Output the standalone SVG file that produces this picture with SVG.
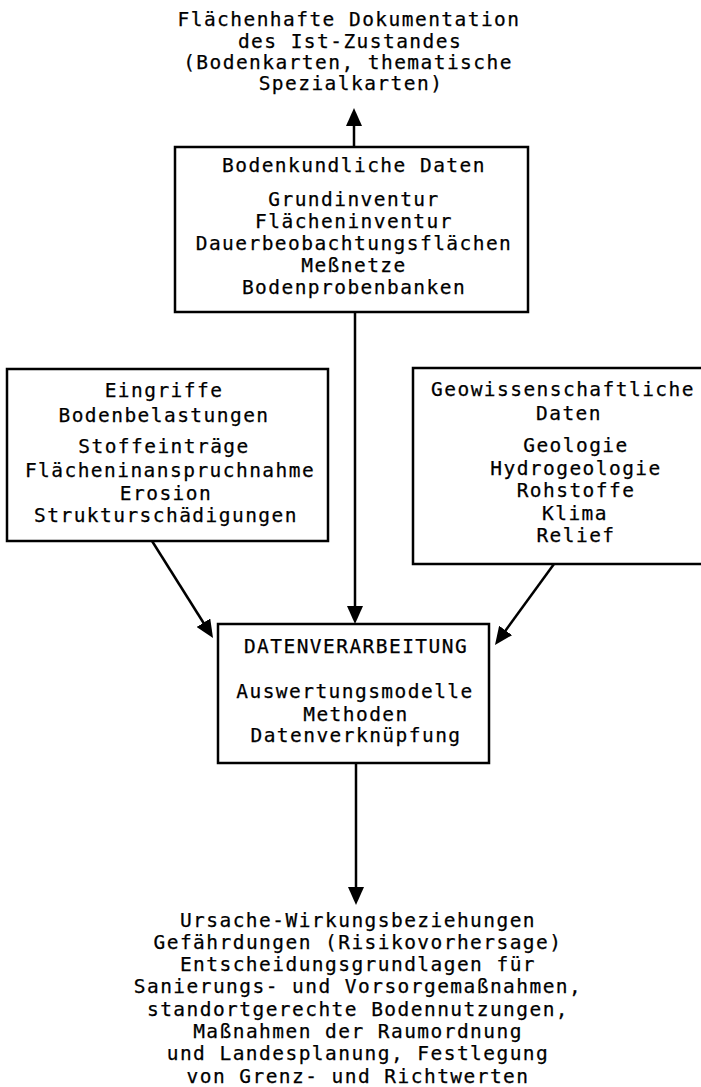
<svg xmlns="http://www.w3.org/2000/svg" width="701" height="1087" viewBox="0 0 701 1087">
  <style>
    .box { fill: #fff; stroke: #000; stroke-width: 2.5; }
    .lbl { font-family: "DejaVu Sans Mono", "Liberation Mono", monospace; font-size: 19.5px; letter-spacing: 1.45px; fill: #000; stroke: #000; stroke-width: 0.25; text-anchor: middle; }
    .edge { stroke: #000; stroke-width: 2.5; fill: none; marker-end: url(#head); }
  </style>
  <defs>
    <marker id="head" markerUnits="userSpaceOnUse" markerWidth="18" markerHeight="16" refX="8" refY="8" orient="auto">
      <path d="M0,0 L18,8 L0,16 z" fill="#000"/>
    </marker>
  </defs>
  <rect width="701" height="1087" fill="#fff"/>

  <!-- connectors -->
  <g id="connectors">
    <line class="edge" x1="354" y1="147" x2="354" y2="118"/>
    <line class="edge" x1="355" y1="312" x2="355" y2="614"/>
    <line class="edge" x1="152" y1="541" x2="207.7" y2="629.5"/>
    <line class="edge" x1="554" y1="564" x2="500.9" y2="636.9"/>
    <line class="edge" x1="356" y1="763" x2="356" y2="895"/>
  </g>

  <!-- output: area-wide documentation -->
  <g id="doku">
    <text class="lbl" x="349" y="26">Flächenhafte Dokumentation</text>
    <text class="lbl" x="350" y="48">des Ist-Zustandes</text>
    <text class="lbl" x="348" y="69">(Bodenkarten, thematische</text>
    <text class="lbl" x="351" y="90">Spezialkarten)</text>
  </g>

  <!-- soil data -->
  <g id="boden">
    <rect class="box" x="175" y="147" width="353" height="165"/>
    <text class="lbl" x="354" y="172">Bodenkundliche Daten</text>
    <text class="lbl" x="354" y="206">Grundinventur</text>
    <text class="lbl" x="354" y="228">Flächeninventur</text>
    <text class="lbl" x="354" y="250">Dauerbeobachtungsflächen</text>
    <text class="lbl" x="354" y="272">Meßnetze</text>
    <text class="lbl" x="354" y="294">Bodenprobenbanken</text>
  </g>

  <!-- interventions / soil loads -->
  <g id="eingriffe">
    <rect class="box" x="7" y="369" width="321" height="172"/>
    <text class="lbl" x="164" y="397">Eingriffe</text>
    <text class="lbl" x="164" y="422">Bodenbelastungen</text>
    <text class="lbl" x="164" y="453">Stoffeinträge</text>
    <text class="lbl" x="170" y="477">Flächeninanspruchnahme</text>
    <text class="lbl" x="166" y="500">Erosion</text>
    <text class="lbl" x="166" y="522">Strukturschädigungen</text>
  </g>

  <!-- geoscience data -->
  <g id="geo">
    <rect class="box" x="413" y="368" width="295" height="196"/>
    <text class="lbl" x="563" y="396">Geowissenschaftliche</text>
    <text class="lbl" x="569" y="420">Daten</text>
    <text class="lbl" x="576" y="452">Geologie</text>
    <text class="lbl" x="576" y="475">Hydrogeologie</text>
    <text class="lbl" x="576" y="497">Rohstoffe</text>
    <text class="lbl" x="575" y="520">Klima</text>
    <text class="lbl" x="576" y="542">Relief</text>
  </g>

  <!-- data processing -->
  <g id="verarbeitung">
    <rect class="box" x="218" y="624" width="271" height="139"/>
    <text class="lbl" x="356" y="653">DATENVERARBEITUNG</text>
    <text class="lbl" x="355" y="698">Auswertungsmodelle</text>
    <text class="lbl" x="356" y="721">Methoden</text>
    <text class="lbl" x="356" y="742">Datenverknüpfung</text>
  </g>

  <!-- results -->
  <g id="ergebnisse">
    <text class="lbl" x="358" y="927">Ursache-Wirkungsbeziehungen</text>
    <text class="lbl" x="358" y="949">Gefährdungen (Risikovorhersage)</text>
    <text class="lbl" x="358" y="971">Entscheidungsgrundlagen für</text>
    <text class="lbl" x="358" y="993">Sanierungs- und Vorsorgemaßnahmen,</text>
    <text class="lbl" x="358" y="1016">standortgerechte Bodennutzungen,</text>
    <text class="lbl" x="358" y="1038">Maßnahmen der Raumordnung</text>
    <text class="lbl" x="358" y="1060">und Landesplanung, Festlegung</text>
    <text class="lbl" x="358" y="1083">von Grenz- und Richtwerten</text>
  </g>
</svg>
